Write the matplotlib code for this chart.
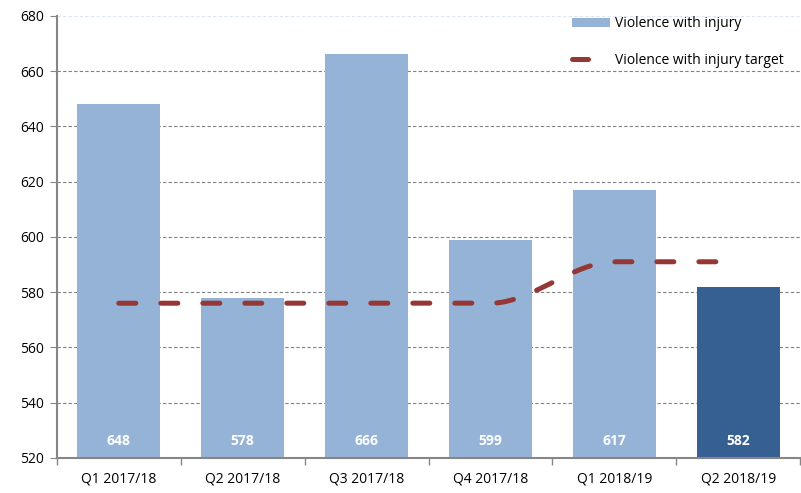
import numpy as np
import matplotlib.pyplot as plt
from matplotlib.patches import Patch
from matplotlib.lines import Line2D

quarters = ["Q1 2017/18", "Q2 2017/18", "Q3 2017/18", "Q4 2017/18", "Q1 2018/19", "Q2 2018/19"]
violence = [648, 578, 666, 599, 617, 582]
target = [576, 576, 576, 576, 591, 591]

light_blue = "#95b3d7"
dark_blue = "#366092"
line_red = "#953735"


def smooth(xs, ys, n=40):
    # monotone cubic through the points (no overshoot on the flat parts)
    xs = np.asarray(xs, float)
    ys = np.asarray(ys, float)
    d = np.diff(ys) / np.diff(xs)
    m = np.zeros_like(ys)
    m[0], m[-1] = d[0], d[-1]
    for i in range(1, len(ys) - 1):
        if d[i - 1] * d[i] > 0:
            m[i] = 2 / (1 / d[i - 1] + 1 / d[i])
    out_x, out_y = [], []
    for i in range(len(xs) - 1):
        t = np.linspace(0, 1, n)
        h = xs[i + 1] - xs[i]
        h00 = 2 * t**3 - 3 * t**2 + 1
        h10 = t**3 - 2 * t**2 + t
        h01 = -2 * t**3 + 3 * t**2
        h11 = t**3 - t**2
        out_x.extend(xs[i] + t * h)
        out_y.extend(h00 * ys[i] + h10 * h * m[i] + h01 * ys[i + 1] + h11 * h * m[i + 1])
    return np.array(out_x), np.array(out_y)


plt.rcParams["font.family"] = ["Open Sans", "DejaVu Sans"]

fig = plt.figure(figsize=(8.01, 4.93), dpi=100)
ax = fig.add_axes([0.071, 0.071, 0.928, 0.897])

x = np.arange(len(quarters))
colors = [light_blue] * (len(quarters) - 1) + [dark_blue]
ax.bar(x, [v - 520 for v in violence], bottom=520, width=0.67, color=colors, zorder=2)

for xi, v in zip(x, violence):
    ax.text(xi, 526, str(v), ha="center", va="center", color="white",
            fontsize=10, fontweight="bold", zorder=4)

sx, sy = smooth(x, target)
ax.plot(sx, sy, color=line_red, lw=3.6, dashes=(3.4, 5.0), dash_capstyle="round",
        solid_capstyle="round", zorder=3)

ax.set_xlim(-0.5, len(quarters) - 0.5)
ax.set_ylim(520, 680)
ax.set_yticks(range(520, 681, 20))
ax.set_xticks(x)
ax.set_xticklabels(quarters)
ax.set_xticks(np.arange(-0.5, len(quarters), 1), minor=True)
ax.tick_params(axis="x", which="major", length=0, pad=10, labelsize=10)
ax.tick_params(axis="x", which="minor", length=5, color="#868686", width=1)
ax.tick_params(axis="y", length=5, color="#868686", labelsize=10, pad=4)

for y in range(540, 661, 20):
    ax.axhline(y, color="#808080", lw=0.8, ls=(0, (3, 2)), zorder=1)
ax.axhline(680, color="#dde6f0", lw=0.8, ls=(0, (3, 2)), zorder=1)

for s in ["top", "right"]:
    ax.spines[s].set_visible(False)
ax.spines["left"].set_color("#868686")
ax.spines["left"].set_linewidth(1.5)
ax.spines["bottom"].set_color("#868686")
ax.spines["bottom"].set_linewidth(1.5)

handles = [
    Patch(facecolor=light_blue, label="Violence with injury"),
    Line2D([], [], color=line_red, lw=3.6, dashes=(3.2, 20), dash_capstyle="round",
           label="Violence with injury target"),
]
ax.legend(handles=handles, loc="upper left", bbox_to_anchor=(0.699, 0.992),
          bbox_transform=fig.transFigure, frameon=False, fontsize=10,
          labelspacing=1.55, handlelength=2.7, handleheight=0.7, handletextpad=0.35)

fig.savefig("out.png", dpi=100)
